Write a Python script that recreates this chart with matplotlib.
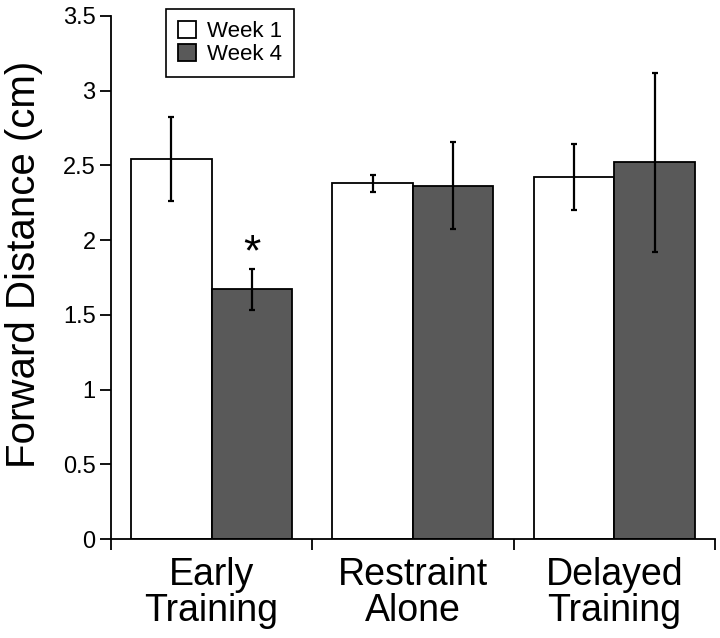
"""
Forward distance per group, Week 1 vs Week 4
"""
import numpy as np
import matplotlib
matplotlib.use('Agg')
import matplotlib.pyplot as plt
from matplotlib.ticker import FormatStrFormatter, FixedLocator

plt.rcParams['font.family'] = ['Liberation Sans', 'DejaVu Sans']

# données
groupes = ['Early\nTraining', 'Restraint\nAlone', 'Delayed\nTraining']
week1 = [2.545, 2.38, 2.425]
week1_err = [0.28, 0.055, 0.22]
week4 = [1.67, 2.365, 2.52]
week4_err = [0.14, 0.29, 0.60]

fig = plt.figure(figsize=(7.2, 6.38), dpi=100)
ax = fig.add_axes([0.154, 0.155, 0.839, 0.82])

x = np.arange(len(groupes))
w = 0.4
err_kw = dict(ecolor='black', elinewidth=1.6, capsize=2.5, capthick=1.6)
ax.bar(x - w / 2, week1, w, yerr=week1_err, color='white', edgecolor='black',
       linewidth=1.3, error_kw=err_kw, label='Week 1')
ax.bar(x + w / 2, week4, w, yerr=week4_err, color='#595959', edgecolor='black',
       linewidth=1.3, error_kw=err_kw, label='Week 4')

# étoile de significativité
ax.text(x[0] + w / 2, week4[0] + week4_err[0] + 0.02, '*', ha='center',
        va='baseline', fontsize=32)

ax.set_xlim(-0.5, 2.5)
ax.set_ylim(0, 3.5)
ax.set_yticks(np.arange(0, 3.51, 0.5))
ax.yaxis.set_major_formatter(FormatStrFormatter('%g'))
ax.xaxis.set_major_locator(FixedLocator([-0.5, 0.5, 1.5, 2.5]))
ax.xaxis.set_minor_locator(FixedLocator(x))
ax.set_xticklabels([])
ax.set_xticklabels(groupes, minor=True, fontsize=27, linespacing=1.0)
ax.tick_params(axis='x', which='minor', length=0, pad=13)
ax.tick_params(axis='x', which='major', direction='out', length=8, width=1.3)
ax.tick_params(axis='y', direction='out', length=8, width=1.3, labelsize=17,
               pad=3)

for s in ['top', 'right']:
    ax.spines[s].set_visible(False)
for s in ['left', 'bottom']:
    ax.spines[s].set_linewidth(1.3)

ax.set_ylabel('Forward Distance (cm)', fontsize=29)
ax.yaxis.set_label_coords(-0.113, 0.525)

leg = ax.legend(loc='upper left', bbox_to_anchor=(166 / 720, 1 - 9 / 638),
                bbox_transform=fig.transFigure, fontsize=16, fancybox=False,
                edgecolor='black', framealpha=1, handlelength=0.8,
                handleheight=0.8, handletextpad=0.5, borderpad=0.55,
                labelspacing=0.05, borderaxespad=0)
leg.get_frame().set_linewidth(1.2)

fig.savefig('out.png', dpi=100)
